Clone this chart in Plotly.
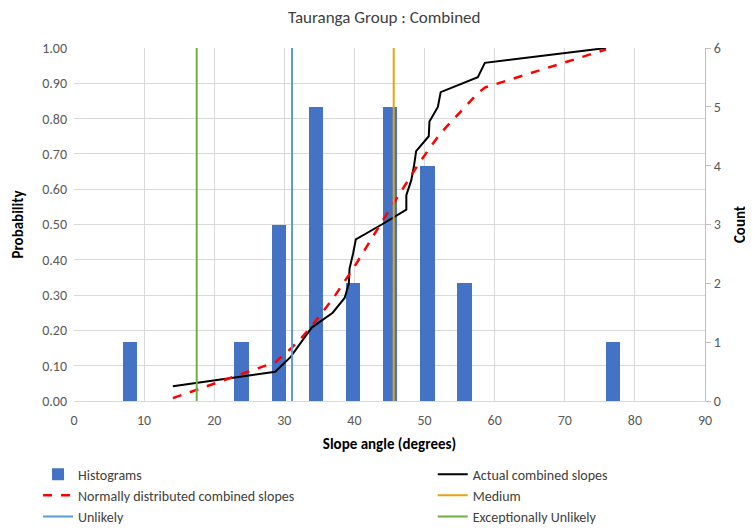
import plotly.graph_objects as go

# histogram of slope angles (bin centres in degrees, counts)
bin_centres = [8.0, 23.9, 29.2, 34.5, 39.8, 45.1, 50.4, 55.7, 76.9]
bin_counts = [1, 1, 3, 5, 2, 5, 4, 2, 1]

# sorted slope angles and cumulative probabilities
slopes = [14.1, 28.7, 30.9, 32.4, 33.9, 36.9, 38.6, 39.2, 39.3, 39.8, 40.2, 43.9,
          47.4, 47.4, 48.1, 48.5, 48.8, 50.6, 50.7, 51.9, 52.3, 57.6, 58.6, 75.9]
actual_prob = [0.042, 0.083, 0.125, 0.167, 0.208, 0.250, 0.292, 0.333, 0.375, 0.417,
               0.458, 0.500, 0.542, 0.583, 0.625, 0.667, 0.708, 0.750, 0.792, 0.833,
               0.875, 0.917, 0.958, 1.000]
normal_prob = [0.008, 0.110, 0.148, 0.178, 0.212, 0.289, 0.339, 0.357, 0.360, 0.375,
               0.387, 0.507, 0.619, 0.619, 0.640, 0.652, 0.661, 0.713, 0.716, 0.748,
               0.759, 0.872, 0.888, 0.996]

# threshold angles
medium = 45.6
unlikely = 31.1
exc_unlikely = 17.5

FONT = "Carlito, 'Liberation Sans Narrow', Roboto, sans-serif"
GRID = "#D9D9D9"
TXT = "#595959"

fig = go.Figure()

fig.add_trace(go.Bar(
    name="Histograms", x=bin_centres, y=bin_counts, width=2.05,
    marker=dict(color="#4472C4", line=dict(width=0)),
    yaxis="y", legend="legend"
))
fig.add_trace(go.Scatter(
    name="Actual combined slopes", x=slopes, y=actual_prob, mode="lines",
    line=dict(color="black", width=2), yaxis="y2", legend="legend2"
))
fig.add_trace(go.Scatter(
    name="Normally distributed combined slopes", x=slopes, y=normal_prob, mode="lines",
    line=dict(color="#FF0000", width=2.5, dash="dash"), yaxis="y2", legend="legend"
))
fig.add_trace(go.Scatter(
    name="Medium", x=[medium, medium], y=[0, 1], mode="lines",
    line=dict(color="#E6A50F", width=2), yaxis="y2", legend="legend2"
))
fig.add_trace(go.Scatter(
    name="Unlikely", x=[unlikely, unlikely], y=[0, 1], mode="lines",
    line=dict(color="#5B9BD5", width=2), yaxis="y2", legend="legend"
))
fig.add_trace(go.Scatter(
    name="Exceptionally Unlikely", x=[exc_unlikely, exc_unlikely], y=[0, 1], mode="lines",
    line=dict(color="#70AD47", width=2), yaxis="y2", legend="legend2"
))

legend_style = dict(
    yanchor="top", xanchor="left", orientation="v",
    font=dict(family=FONT, size=14, color="#404040"),
    bgcolor="rgba(0,0,0,0)", itemwidth=30
)

# page body has an 8px margin, so the figure is 8px smaller than the window
fig.update_layout(
    width=745, height=524,
    margin=dict(l=66, r=48, t=40, b=131, autoexpand=False),
    plot_bgcolor="white", paper_bgcolor="white",
    font=dict(family=FONT, size=14, color=TXT),
    title=dict(text="Tauranga Group : Combined", x=0.505, xanchor="center",
               y=0.994, yanchor="top", pad=dict(t=0, b=0),
               font=dict(family=FONT, size=17, color="#404040")),
    bargap=0,
    xaxis=dict(
        range=[0, 90], dtick=10, showgrid=True, gridcolor=GRID, zeroline=False,
        showline=True, linecolor=GRID, ticks="", ticklabelstandoff=6,
        title=dict(text="<b>Slope angle (degrees)</b>", standoff=10,
                   font=dict(family=FONT, size=15, color="black"))
    ),
    yaxis=dict(
        range=[0, 6], dtick=1, side="right", showgrid=False, zeroline=False,
        showline=True, linecolor="#BFBFBF", ticks="outside", ticklen=5, tickcolor="#BFBFBF",
        title=dict(text="<b>Count</b>", standoff=14,
                   font=dict(family=FONT, size=15, color="black"))
    ),
    yaxis2=dict(
        range=[0, 1], dtick=0.1, tickformat=".2f", side="left", overlaying="y",
        showgrid=True, gridcolor=GRID, zeroline=False, showline=False,
        ticklabelstandoff=6,
        title=dict(text="<b>Probability</b>", standoff=14,
                   font=dict(family=FONT, size=15, color="black"))
    ),
    legend=dict(x=-0.057, y=-0.163, **legend_style),
    legend2=dict(x=0.5685, y=-0.163, **legend_style),
)

fig.write_html("out.html")
